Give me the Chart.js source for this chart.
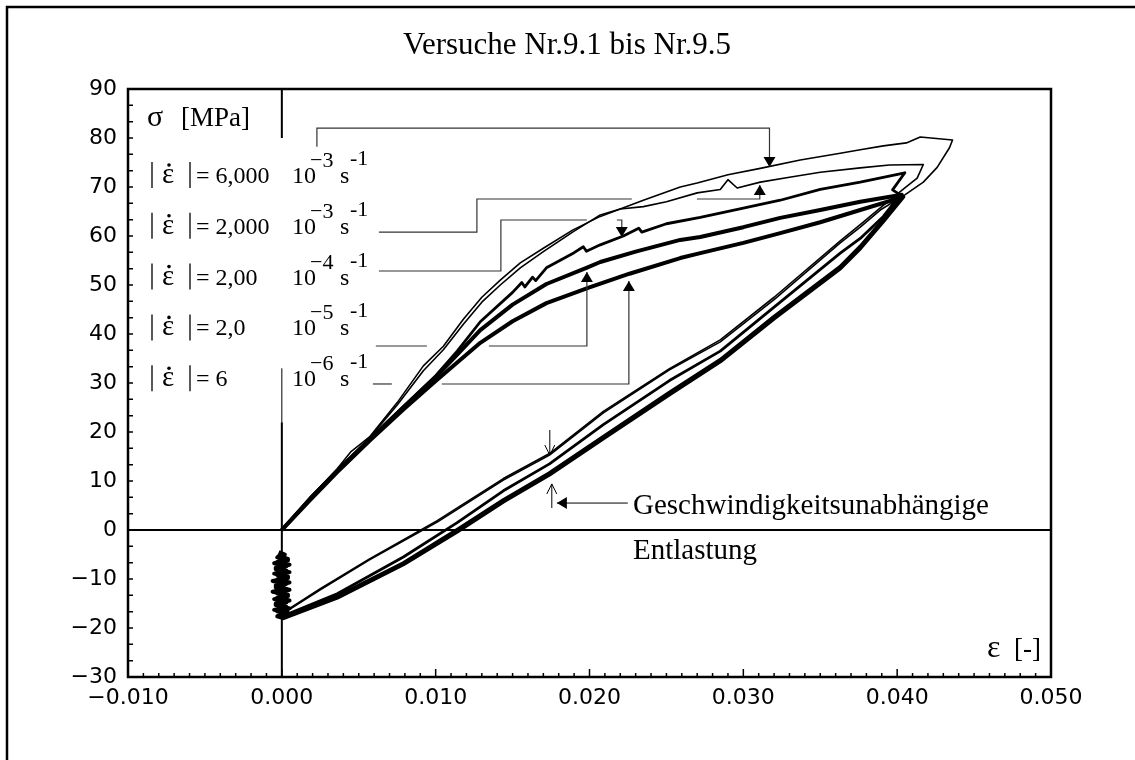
<!DOCTYPE html>
<html>
<head>
<meta charset="utf-8">
<script src="https://cdn.jsdelivr.net/npm/chart.js@4.4.1/dist/chart.umd.min.js"></script>
<style>
  html, body { margin: 0; padding: 0; background: #fff; }
</style>
</head>
<body>
<canvas id="myChart" width="1135" height="760"></canvas>
<script>
// Versuche Nr.9.1 bis Nr.9.5 - Be- und Entlastung bei verschiedenen Dehnraten
const strainTicks = [-0.010, 0.000, 0.010, 0.020, 0.030, 0.040, 0.050]
const stressTicks = [-30, -20, -10, 0, 10, 20, 30, 40, 50, 60, 70, 80, 90]

const rateValues = ['6,000', '2,000', '2,00', '2,0', '6']
const rateExponents = ['−3', '−3', '−4', '−5', '−6']

// [Dehnung, Spannung MPa]
const loop91 = [
  [0, 0], [0.0018, 6.5], [0.0036, 12.5], [0.0045, 16], [0.0057, 19], [0.0075, 26], [0.0092, 33.5],
  [0.0105, 37.5], [0.0118, 43], [0.0130, 47.5], [0.0142, 51], [0.0155, 54.5], [0.0170, 57.5],
  [0.0189, 61.2], [0.0207, 64], [0.0235, 67.3], [0.0259, 70], [0.0270, 70.8], [0.0290, 72.5],
  [0.0311, 73.8], [0.0337, 75.5], [0.0363, 76.9], [0.0376, 77.6], [0.0391, 78.4], [0.0406, 79.0],
  [0.0415, 80.2], [0.0436, 79.6],
  [0.0434, 78], [0.0426, 74], [0.0417, 71], [0.0405, 68.4], [0.0389, 65.3], [0.0376, 61.8],
  [0.0363, 58.6], [0.0320, 47], [0.0285, 38.4], [0.0252, 32.7], [0.0209, 23.9], [0.0174, 15.3],
  [0.0144, 10.2], [0.0101, 1.6], [0.0057, -6.1], [0.0025, -12.2], [0.0001, -17], [0.0000, -12], [0.0001, -8]
]
const loop92 = [
  [0, 0], [0.0018, 6.6], [0.0036, 12.3], [0.0057, 18.8], [0.0075, 25.5], [0.0092, 32.5], [0.0105, 36.8],
  [0.0118, 42], [0.0130, 46.5], [0.0142, 50], [0.0155, 53.5], [0.0170, 56.8], [0.0189, 60.8],
  [0.0207, 64.3], [0.0220, 65.5], [0.0235, 66], [0.0250, 67], [0.0270, 68.8], [0.0285, 69.5],
  [0.0290, 71.5], [0.0296, 69.8], [0.0311, 71], [0.0330, 72], [0.0350, 73], [0.0376, 73.9],
  [0.0395, 74.5], [0.0417, 74.6],
  [0.0413, 71.8], [0.0405, 69.8], [0.0390, 66], [0.0376, 62.3], [0.0363, 59], [0.0320, 47.5],
  [0.0285, 38.8], [0.0252, 32.9], [0.0209, 24.2], [0.0174, 15.6], [0.0144, 10.5], [0.0101, 1.9],
  [0.0057, -5.9], [0.0025, -12], [0.0001, -16.8], [-0.0001, -11], [0.0001, -7]
]
const loop93 = [
  [0, 0], [0.0018, 6.4], [0.0036, 12.2], [0.0057, 18.6], [0.0079, 25.2], [0.0100, 31.5],
  [0.0114, 36.5], [0.0129, 42.5], [0.0150, 48.5], [0.0156, 50.5], [0.0158, 49.6], [0.0163, 51.6],
  [0.0165, 50.9], [0.0172, 53.5], [0.0190, 56.6], [0.0196, 57.8], [0.0198, 56.9], [0.0207, 58.2],
  [0.0222, 60], [0.0232, 61.6], [0.0234, 60.8], [0.0250, 62.5], [0.0272, 63.8], [0.0300, 65.7],
  [0.0324, 67.3], [0.0350, 69.5], [0.0376, 71], [0.0405, 72.9],
  [0.0397, 69.4], [0.0402, 68.4], [0.0391, 64], [0.0376, 59.5], [0.0363, 56.5], [0.0320, 45.5],
  [0.0285, 36.5], [0.0252, 30.5], [0.0209, 21.5], [0.0174, 13.5], [0.0144, 8], [0.0114, 1.5],
  [0.0079, -5.5], [0.0036, -13], [0.0001, -17.5]
]
const loop94 = [
  [0, 0], [0.0018, 6.2], [0.0036, 12], [0.0057, 18.4], [0.0079, 25], [0.0100, 31.2], [0.0114, 35.8],
  [0.0129, 40.8], [0.0150, 46], [0.0172, 50.2], [0.0198, 53.5], [0.0207, 54.7], [0.0230, 56.8],
  [0.0259, 59.2], [0.0272, 59.8], [0.0300, 61.8], [0.0324, 63.7], [0.0350, 65.3], [0.0376, 67],
  [0.0403, 68.4],
  [0.0391, 63.3], [0.0376, 57.8], [0.0363, 53.7], [0.0320, 43.5], [0.0285, 34.7], [0.0252, 28],
  [0.0209, 19], [0.0174, 11.6], [0.0144, 6.1], [0.0114, 0], [0.0079, -6.8], [0.0036, -13.6],
  [0.0001, -17.8]
]
const loop95 = [
  [0, 0], [0.0018, 6], [0.0036, 11.8], [0.0057, 18.2], [0.0079, 24.6], [0.0100, 30.4], [0.0114, 34.2],
  [0.0129, 38.2], [0.0150, 42.6], [0.0172, 46.3], [0.0200, 49.5], [0.0226, 52.3], [0.0259, 55.5],
  [0.0272, 56.5], [0.0300, 58.6], [0.0324, 60.6], [0.0350, 62.8], [0.0376, 65.3], [0.0404, 68],
  [0.0391, 63], [0.0376, 57.5], [0.0363, 53.4], [0.0320, 43.2], [0.0285, 34.4], [0.0252, 27.7],
  [0.0209, 18.7], [0.0174, 11.3], [0.0144, 5.8], [0.0114, -0.3], [0.0079, -7], [0.0036, -13.8],
  [0.0001, -18]
]
// Relaxation bei Dehnung 0
const zeroHoldA = [
  [0.0004, -17.2], [-0.0003, -16.6], [0.0005, -16.0], [-0.0004, -15.3], [0.0003, -14.8], [-0.0005, -14.1],
  [0.0004, -13.5], [-0.0003, -12.9], [0.0005, -12.2], [-0.0004, -11.7], [0.0003, -11.0], [-0.0006, -10.4],
  [0.0004, -9.8], [-0.0003, -9.2], [0.0005, -8.6], [-0.0004, -8.0], [0.0003, -7.4], [-0.0005, -6.8],
  [0.0004, -6.2], [-0.0003, -5.6], [0.0002, -5.0], [-0.0002, -4.5]
]
const zeroHoldB = [
  [-0.0003, -17.6], [0.0004, -16.9], [-0.0005, -16.3], [0.0003, -15.7], [-0.0004, -15.0], [0.0005, -14.4],
  [-0.0003, -13.8], [0.0004, -13.2], [-0.0006, -12.6], [0.0003, -12.0], [-0.0004, -11.3], [0.0005, -10.7],
  [-0.0003, -10.1], [0.0004, -9.5], [-0.0005, -8.9], [0.0003, -8.3], [-0.0004, -7.7], [0.0005, -7.1],
  [-0.0003, -6.5], [0.0004, -5.9], [-0.0002, -5.3], [0.0001, -4.8]
]
const zeroHoldC = [
  [0.0002, -16.5], [-0.0003, -14.5], [0.0003, -12.4], [-0.0003, -10.2], [0.0002, -8.1], [-0.0002, -6]
]

const loops = [
  { data: loop91, width: 1.6 },
  { data: loop92, width: 1.6 },
  { data: loop93.concat(zeroHoldC), width: 2.8 },
  { data: loop94.concat(zeroHoldA), width: 4 },
  { data: loop95.concat(zeroHoldB), width: 4 }
]

// Hinweislinien zu den Kurven (Dehnung, Spannung), Pfeil am Ende
const leaders = [
  [[[0.00228, 78.2], [0.00228, 82.0], [0.0317, 82.0], [0.0317, 74.1]]],
  [[[0.00631, 60.8], [0.01268, 60.8], [0.01268, 67.55], [0.02275, 67.55]], [[0.02698, 67.55], [0.03107, 67.55], [0.03107, 70.4]]],
  [[[0.00631, 52.86], [0.01424, 52.86], [0.01424, 63.27], [0.01983, 63.27]], [[0.02178, 63.27], [0.0221, 63.27], [0.0221, 59.8]]],
  [[[0.00611, 37.55], [0.00943, 37.55]], [[0.01346, 37.55], [0.01983, 37.55], [0.01983, 52.65]]],
  [[[0.00592, 29.8], [0.00715, 29.8]], [[0.0104, 29.8], [0.02256, 29.8], [0.02256, 50.8]]]
]

function fmtStrain(v) {
  const s = Math.abs(v).toFixed(3)
  return v < -1e-9 ? '\u2212' + s : s
}
function fmtStress(v) {
  return v < 0 ? '\u2212' + Math.abs(v) : String(v)
}

function solidHead(ctx, tx, ty, dx, dy) {
  const len = 10, hw = 6
  ctx.beginPath()
  ctx.moveTo(tx, ty)
  ctx.lineTo(tx - dx * len - dy * hw, ty - dy * len + dx * hw)
  ctx.lineTo(tx - dx * len + dy * hw, ty - dy * len - dx * hw)
  ctx.closePath()
  ctx.fill()
}
function openHead(ctx, tx, ty, dx, dy) {
  const len = 10, hw = 5
  ctx.beginPath()
  ctx.moveTo(tx - dx * len - dy * hw, ty - dy * len + dx * hw)
  ctx.lineTo(tx, ty)
  ctx.lineTo(tx - dx * len + dy * hw, ty - dy * len - dx * hw)
  ctx.stroke()
}

const axesAndNotes = {
  id: 'axesAndNotes',
  beforeDatasetsDraw(chart) {
    const { ctx, chartArea: a, scales: { x, y } } = chart
    ctx.save()
    ctx.strokeStyle = '#000'
    // Nulllinien
    ctx.lineWidth = 2
    ctx.beginPath()
    ctx.moveTo(a.left, y.getPixelForValue(0))
    ctx.lineTo(a.right, y.getPixelForValue(0))
    ctx.moveTo(x.getPixelForValue(0), y.getPixelForValue(90))
    ctx.lineTo(x.getPixelForValue(0), y.getPixelForValue(80))
    ctx.moveTo(x.getPixelForValue(0), y.getPixelForValue(22))
    ctx.lineTo(x.getPixelForValue(0), a.bottom)
    ctx.stroke()
    ctx.lineWidth = 1
    ctx.beginPath()
    ctx.moveTo(x.getPixelForValue(0), y.getPixelForValue(33))
    ctx.lineTo(x.getPixelForValue(0), y.getPixelForValue(22))
    ctx.stroke()
    ctx.restore()
  },
  afterDraw(chart) {
    const { ctx, chartArea: a, scales: { x, y } } = chart
    const px = v => x.getPixelForValue(v)
    const py = v => y.getPixelForValue(v)
    ctx.save()
    ctx.strokeStyle = '#000'
    ctx.fillStyle = '#000'

    // Rahmen aussen
    ctx.lineWidth = 2.5
    ctx.beginPath()
    ctx.moveTo(7, 760)
    ctx.lineTo(7, 7)
    ctx.lineTo(1135, 7)
    ctx.stroke()

    // Diagrammrahmen
    ctx.lineWidth = 2.5
    ctx.strokeRect(a.left, a.top, a.right - a.left, a.bottom - a.top)

    // Teilstriche nach innen
    ctx.lineWidth = 1.5
    ctx.beginPath()
    for (let k = 0; k <= 36; k++) {
      const yy = py(-30 + k * 10 / 3)
      ctx.moveTo(a.left, yy)
      ctx.lineTo(a.left + 5, yy)
    }
    for (let k = 0; k <= 60; k++) {
      const xx = px(-0.010 + k * 0.001)
      ctx.moveTo(xx, a.bottom)
      ctx.lineTo(xx, a.bottom - (k % 10 === 0 ? 8 : 4))
    }
    ctx.stroke()

    // Hinweislinien
    ctx.strokeStyle = '#333'
    ctx.fillStyle = '#000'
    ctx.lineWidth = 1.2
    leaders.forEach(parts => {
      parts.forEach(pts => {
        ctx.beginPath()
        pts.forEach((p, i) => i ? ctx.lineTo(px(p[0]), py(p[1])) : ctx.moveTo(px(p[0]), py(p[1])))
        ctx.stroke()
      })
      const last = parts[parts.length - 1]
      const p1 = last[last.length - 2], p2 = last[last.length - 1]
      const dir = Math.sign(py(p2[1]) - py(p1[1]))
      solidHead(ctx, px(p2[0]), py(p2[1]), 0, dir)
    })

    // Pfeile Entlastung
    ctx.strokeStyle = '#000'
    ctx.lineWidth = 1
    ctx.beginPath()
    ctx.moveTo(px(0.01742), py(20.4)); ctx.lineTo(px(0.01742), py(15.3))
    ctx.moveTo(px(0.01755), py(4.5)); ctx.lineTo(px(0.01755), py(9.4))
    ctx.moveTo(px(0.02249), py(5.5)); ctx.lineTo(px(0.01788), py(5.5))
    ctx.stroke()
    openHead(ctx, px(0.01742), py(15.3), 0, 1)
    openHead(ctx, px(0.01755), py(9.4), 0, -1)
    solidHead(ctx, px(0.01788), py(5.5), -1, 0)

    // Texte
    const serif = s => s + 'px "Liberation Serif", "Times New Roman", serif'
    ctx.fillStyle = '#000'
    ctx.textBaseline = 'alphabetic'
    ctx.textAlign = 'center'
    ctx.font = serif(31)
    ctx.fillText('Versuche Nr.9.1 bis Nr.9.5', 567, 54)

    ctx.textAlign = 'left'
    ctx.font = serif(30)
    ctx.fillText('σ', 147, 126)
    ctx.font = serif(27)
    ctx.fillText('[MPa]', 181, 126)

    ctx.font = serif(32)
    ctx.fillText('ε', 987, 657)
    ctx.font = serif(27)
    ctx.fillText('[-]', 1014, 657)

    ctx.font = serif(29)
    ctx.fillText('Geschwindigkeitsunabhängige', 633, 514)
    ctx.fillText('Entlastung', 633, 559)

    rateValues.forEach((val, i) => {
      const b = 183 + i * 50.8
      ctx.lineWidth = 1.3
      ctx.beginPath()
      ctx.moveTo(152, b - 21); ctx.lineTo(152, b + 5)
      ctx.moveTo(190, b - 21); ctx.lineTo(190, b + 5)
      ctx.stroke()
      ctx.font = serif(29)
      ctx.fillText('ε', 162, b)
      ctx.beginPath()
      ctx.arc(169, b - 18, 1.8, 0, Math.PI * 2)
      ctx.fill()
      ctx.font = serif(24)
      ctx.fillText('= ' + val, 196, b)
      ctx.fillText('10', 292, b)
      ctx.fillText('s', 340, b)
      ctx.font = serif(22)
      ctx.fillText(rateExponents[i], 310, b - 16)
      ctx.fillText('-1', 350, b - 18)
    })
    ctx.restore()
  }
}

const ctx = document.getElementById('myChart').getContext('2d')
const myChart = new Chart(ctx, {
  type: 'scatter',
  data: {
    datasets: loops.map((l, i) => ({
      label: 'Nr.9.' + (i + 1),
      data: l.data.map(p => ({ x: p[0], y: p[1] })),
      showLine: true,
      borderColor: '#000',
      borderWidth: l.width,
      borderJoinStyle: 'round',
      pointRadius: 0,
      tension: 0,
      fill: false
    }))
  },
  options: {
    responsive: false,
    animation: false,
    layout: { padding: { left: 0, top: 89, right: 84, bottom: 43 } },
    plugins: { legend: { display: false }, tooltip: { enabled: false } },
    scales: {
      x: {
        type: 'linear',
        min: strainTicks[0],
        max: strainTicks[strainTicks.length - 1],
        afterBuildTicks: s => { s.ticks = strainTicks.map(v => ({ value: v })) },
        ticks: {
          callback: v => fmtStrain(v),
          color: '#000',
          font: { family: 'DejaVu Sans', size: 22 },
          padding: 8,
          maxRotation: 0,
          autoSkip: false
        },
        grid: { display: false, drawTicks: false },
        border: { display: false },
        afterFit: s => { s.height = 40 }
      },
      y: {
        min: stressTicks[0],
        max: stressTicks[stressTicks.length - 1],
        afterBuildTicks: s => { s.ticks = stressTicks.map(v => ({ value: v })) },
        ticks: {
          callback: v => fmtStress(v),
          color: '#000',
          font: { family: 'DejaVu Sans', size: 22 },
          padding: 11,
          autoSkip: false
        },
        grid: { display: false, drawTicks: false },
        border: { display: false },
        afterFit: s => { s.width = 128 }
      }
    }
  },
  plugins: [axesAndNotes]
})
</script>
</body>
</html>
